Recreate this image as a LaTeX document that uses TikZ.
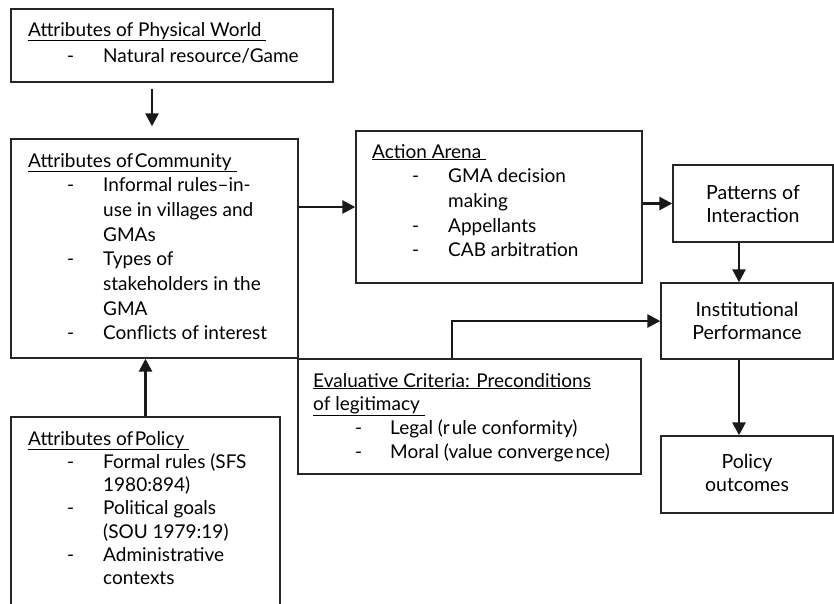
\documentclass[tikz,border=0pt]{standalone}
\usepackage{fontspec}
\setmainfont{Lato}
\usetikzlibrary{arrows.meta}
\newcommand\boxhead[1]{\multicolumn{2}{@{}l@{}}{\underline{#1\ }}}
\begin{document}
\begin{tikzpicture}[x=1pt,y=-1pt,
  box/.style={draw=black!85, line width=1.4pt, inner sep=0pt, rectangle},
  arr/.style={draw=black!90, line width=2.7pt, -{Triangle[length=13pt,width=13pt]}},
  txt/.style={inner sep=0pt, anchor=base west},
  ctr/.style={font=\fontsize{19.5}{23}\selectfont, align=center}]
\useasboundingbox (0,0) rectangle (834,603);
\clip (0,0) rectangle (834,603);

% boxes
\node[box, minimum width=322pt, minimum height=73pt] (phys) at (172,45.5) {};
\node[box, minimum width=287pt, minimum height=219pt] (comm) at (154.5,248.5) {};
\node[box, minimum width=269pt, minimum height=240pt] (pol) at (145.5,537) {};
\node[box, minimum width=286pt, minimum height=152pt] (act) at (499,207) {};
\node[box, minimum width=343pt, minimum height=115pt] (eval) at (469.5,416.5) {};
\node[box, minimum width=160pt, minimum height=77pt, ctr] (pat) at (753,203.5) {Patterns of\\Interaction};
\node[box, minimum width=172pt, minimum height=76pt, ctr] (ip) at (747,321) {Institutional\\Performance};
\node[box, minimum width=172pt, minimum height=77pt, ctr] (out) at (747,474.5) {\raisebox{3pt}{Policy}\\\raisebox{3pt}{outcomes}};

% texts
\node[txt, font=\fontsize{19}{26}\selectfont] (physT) at (28,36) {\begin{tabular}[t]{@{\hspace{39pt}}p{36pt}@{}l@{}}
\boxhead{Attributes of Physical World}\\
- & Natural resource/Game
\end{tabular}};

\node[txt, font=\fontsize{19}{24.7}\selectfont] (commT) at (28,167) {\begin{tabular}[t]{@{\hspace{39pt}}p{36pt}@{}l@{}}
\boxhead{Attributes of\kern1.5pt Community}\\
- & Informal rules–in-\\
  & use in villages and\\
  & GMAs\\
- & Types of\\
  & stakeholders in the\\
  & GMA\\
- & Conflicts of interest
\end{tabular}};

\node[txt, font=\fontsize{19}{24.7}\selectfont] (actT) at (372,158) {\begin{tabular}[t]{@{\hspace{40pt}}p{36pt}@{}l@{}}
\boxhead{Action Arena}\\
- & GMA decision\\
  & making\\
- & Appellants\\
- & CAB arbitration
\end{tabular}};

\node[txt, font=\fontsize{19}{23.3}\selectfont] (polT) at (28,445) {\begin{tabular}[t]{@{\hspace{39pt}}p{36pt}@{}l@{}}
\boxhead{Attributes of\kern1.5pt Policy}\\
- & Formal rules (SFS\\
  & 1980:894)\\
- & Political goals\\
  & (SOU 1979:19)\\
- & Administrative\\
  & contexts
\end{tabular}};

\node[txt, font=\fontsize{19}{23.7}\selectfont] (evalT) at (313,387) {\begin{tabular}[t]{@{\hspace{42pt}}p{35pt}@{}l@{}}
\multicolumn{2}{@{}l@{}}{\underline{Evaluative Criteria: Preconditions}}\\
\boxhead{of legitimacy}\\
- & Legal (r\kern2pt ule conformity)\\
- & Moral (value converge\kern2pt nce)
\end{tabular}};

% connectors
\draw[arr, shorten <=6pt, shorten >=12pt] ([xshift=-2.5pt]comm.north |- phys.south) -- ([xshift=-2.5pt]comm.north);
\draw[arr] (pol.north) -- (pol.north |- comm.south);
\draw[arr] (comm.east |- act.west) -- (act.west);
\draw[arr] (act.east |- pat.west) -- (pat.west);
\draw[arr] ([xshift=-8pt]ip.north |- pat.south) -- ([xshift=-8pt]ip.north);
\draw[arr] ([xshift=-8pt]ip.south) -- ([xshift=-8pt]out.north);
\draw[arr] ([xshift=-17.5pt]eval.north) |- (ip.west);
\end{tikzpicture}
\end{document}
